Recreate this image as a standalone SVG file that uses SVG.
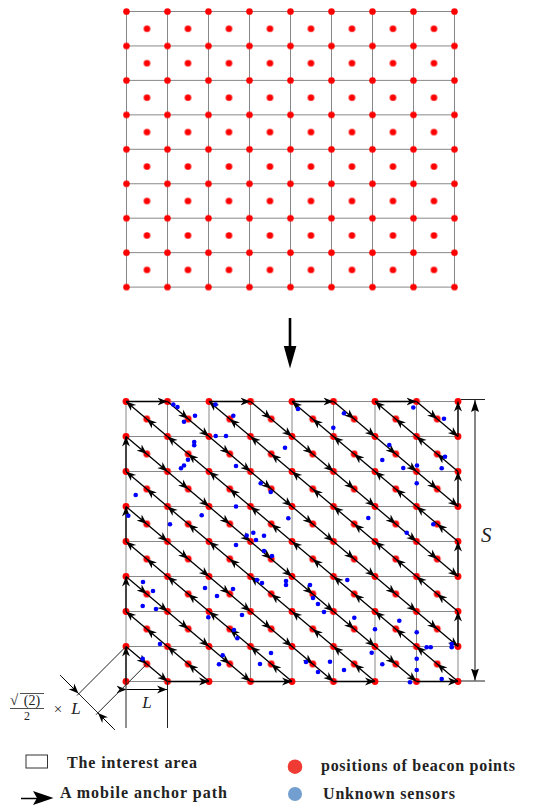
<svg xmlns="http://www.w3.org/2000/svg" width="544" height="805" viewBox="0 0 544 805">
<style>
.grid{fill:none;stroke:#888;stroke-width:1}
.d{fill:none;stroke:#000;stroke-width:1.3;marker-mid:url(#ah);marker-end:url(#ah)}
.e{fill:none;stroke:#000;stroke-width:1.3;marker-end:url(#ah)}
.s{fill:#0000ff}
.dim{fill:none;stroke:#222;stroke-width:1}
.lg{font-family:"Liberation Serif","DejaVu Serif",serif;font-weight:bold;font-size:16px;fill:#222}
.m{font-family:"Liberation Serif","DejaVu Serif",serif;fill:#222}
</style>
<defs>
<marker id="ah" viewBox="-10 -5 11 10" markerWidth="11" markerHeight="10" refX="0" refY="0" orient="auto" markerUnits="userSpaceOnUse"><path d="M0,0 L-10,-4 L-7,0 L-10,4 Z" fill="#000"/></marker>
<marker id="da" viewBox="-12 -5 13 10" markerWidth="13" markerHeight="10" refX="0" refY="0" orient="auto-start-reverse" markerUnits="userSpaceOnUse"><path d="M0,0 L-12,-4 L-10,0 L-12,4 Z" fill="#000"/></marker>
<pattern id="tv" patternUnits="userSpaceOnUse" x="106" y="-5.725" width="41" height="34.45"><circle cx="20.5" cy="17.225" r="3.3" fill="#ff0000"/></pattern>
<pattern id="tc" patternUnits="userSpaceOnUse" x="126.5" y="11.5" width="41" height="34.45"><circle cx="20.5" cy="17.225" r="3.3" fill="#ff0000"/></pattern>
<pattern id="bv" patternUnits="userSpaceOnUse" x="105.25" y="384" width="41.5" height="35"><circle cx="20.75" cy="17.5" r="3.4" fill="#ff0000"/></pattern>
<pattern id="bc" patternUnits="userSpaceOnUse" x="126" y="401.5" width="41.5" height="35"><circle cx="20.75" cy="17.5" r="3.4" fill="#ff0000"/></pattern>
</defs>
<rect width="544" height="805" fill="#fff"/>

<g id="top-grid">
<path class="grid" d="M126.5 11.5V287.1M167.5 11.5V287.1M208.5 11.5V287.1M249.5 11.5V287.1M290.5 11.5V287.1M331.5 11.5V287.1M372.5 11.5V287.1M413.5 11.5V287.1M454.5 11.5V287.1M126.5 11.5H454.5M126.5 45.95H454.5M126.5 80.4H454.5M126.5 114.85H454.5M126.5 149.3H454.5M126.5 183.75H454.5M126.5 218.2H454.5M126.5 252.65H454.5M126.5 287.1H454.5"/>
<rect x="106" y="-5.725" width="369" height="310.05" fill="url(#tv)"/>
<rect x="126.5" y="11.5" width="328" height="275.6" fill="url(#tc)"/>
</g>

<g id="transform-arrow">
<line x1="290" y1="318" x2="290" y2="348" stroke="#000" stroke-width="2.6"/>
<polygon points="283.8,346 296.4,346 290,368.5" fill="#000"/>
</g>

<g id="bottom-grid">
<path class="grid" d="M126 401.5V681.5M167.5 401.5V681.5M209 401.5V681.5M250.5 401.5V681.5M292 401.5V681.5M333.5 401.5V681.5M375 401.5V681.5M416.5 401.5V681.5M458 401.5V681.5M126 401.5H458M126 436.5H458M126 471.5H458M126 506.5H458M126 541.5H458M126 576.5H458M126 611.5H458M126 646.5H458M126 681.5H458"/>
<rect x="105.25" y="384" width="373.5" height="315" fill="url(#bv)"/>
<rect x="126" y="401.5" width="332" height="280" fill="url(#bc)"/>
</g>

<g id="anchor-path">
<path class="d" d="M126 646.5l20.75 17.5l20.75 17.5"/>
<path class="d" d="M209 681.5l-20.75-17.5l-20.75-17.5l-20.75-17.5l-20.75-17.5"/>
<path class="d" d="M126 576.5l20.75 17.5l20.75 17.5l20.75 17.5l20.75 17.5l20.75 17.5l20.75 17.5"/>
<path class="d" d="M292 681.5l-20.75-17.5l-20.75-17.5l-20.75-17.5l-20.75-17.5l-20.75-17.5l-20.75-17.5l-20.75-17.5l-20.75-17.5"/>
<path class="d" d="M126 506.5l20.75 17.5l20.75 17.5l20.75 17.5l20.75 17.5l20.75 17.5l20.75 17.5l20.75 17.5l20.75 17.5l20.75 17.5l20.75 17.5"/>
<path class="d" d="M375 681.5l-20.75-17.5l-20.75-17.5l-20.75-17.5l-20.75-17.5l-20.75-17.5l-20.75-17.5l-20.75-17.5l-20.75-17.5l-20.75-17.5l-20.75-17.5l-20.75-17.5l-20.75-17.5"/>
<path class="d" d="M126 436.5l20.75 17.5l20.75 17.5l20.75 17.5l20.75 17.5l20.75 17.5l20.75 17.5l20.75 17.5l20.75 17.5l20.75 17.5l20.75 17.5l20.75 17.5l20.75 17.5l20.75 17.5l20.75 17.5"/>
<path class="d" d="M458 681.5l-20.75-17.5l-20.75-17.5l-20.75-17.5l-20.75-17.5l-20.75-17.5l-20.75-17.5l-20.75-17.5l-20.75-17.5l-20.75-17.5l-20.75-17.5l-20.75-17.5l-20.75-17.5l-20.75-17.5l-20.75-17.5l-20.75-17.5l-20.75-17.5"/>
<path class="d" d="M167.5 401.5l20.75 17.5l20.75 17.5l20.75 17.5l20.75 17.5l20.75 17.5l20.75 17.5l20.75 17.5l20.75 17.5l20.75 17.5l20.75 17.5l20.75 17.5l20.75 17.5l20.75 17.5l20.75 17.5"/>
<path class="d" d="M458 611.5l-20.75-17.5l-20.75-17.5l-20.75-17.5l-20.75-17.5l-20.75-17.5l-20.75-17.5l-20.75-17.5l-20.75-17.5l-20.75-17.5l-20.75-17.5l-20.75-17.5l-20.75-17.5"/>
<path class="d" d="M250.5 401.5l20.75 17.5l20.75 17.5l20.75 17.5l20.75 17.5l20.75 17.5l20.75 17.5l20.75 17.5l20.75 17.5l20.75 17.5l20.75 17.5"/>
<path class="d" d="M458 541.5l-20.75-17.5l-20.75-17.5l-20.75-17.5l-20.75-17.5l-20.75-17.5l-20.75-17.5l-20.75-17.5l-20.75-17.5"/>
<path class="d" d="M333.5 401.5l20.75 17.5l20.75 17.5l20.75 17.5l20.75 17.5l20.75 17.5l20.75 17.5"/>
<path class="d" d="M458 471.5l-20.75-17.5l-20.75-17.5l-20.75-17.5l-20.75-17.5"/>
<path class="d" d="M416.5 401.5l20.75 17.5l20.75 17.5"/>
<path class="e" d="M126 681.5V646.5"/>
<path class="e" d="M126 611.5V576.5"/>
<path class="e" d="M126 541.5V506.5"/>
<path class="e" d="M126 471.5V436.5"/>
<path class="e" d="M167.5 681.5H209"/>
<path class="e" d="M250.5 681.5H292"/>
<path class="e" d="M333.5 681.5H375"/>
<path class="e" d="M416.5 681.5H458"/>
<path class="e" d="M126 401.5H167.5"/>
<path class="e" d="M209 401.5H250.5"/>
<path class="e" d="M292 401.5H333.5"/>
<path class="e" d="M375 401.5H416.5"/>
<path class="e" d="M458 646.5V611.5"/>
<path class="e" d="M458 576.5V541.5"/>
<path class="e" d="M458 506.5V471.5"/>
<path class="e" d="M458 436.5V401.5"/>
</g>

<g id="sensors">
<circle class="s" cx="173.3" cy="404.5" r="2.3"/><circle class="s" cx="177.5" cy="407" r="2.3"/><circle class="s" cx="195" cy="415.7" r="2.3"/><circle class="s" cx="184" cy="421.7" r="2.3"/><circle class="s" cx="215.5" cy="404.5" r="2.3"/><circle class="s" cx="233.3" cy="415.7" r="2.3"/><circle class="s" cx="215.7" cy="436" r="2.3"/><circle class="s" cx="226" cy="436" r="2.3"/><circle class="s" cx="194.2" cy="442" r="2.3"/><circle class="s" cx="194.2" cy="445.3" r="2.3"/><circle class="s" cx="188" cy="459.7" r="2.3"/><circle class="s" cx="184" cy="465.5" r="2.3"/><circle class="s" cx="181" cy="468.3" r="2.3"/><circle class="s" cx="236" cy="466" r="2.3"/><circle class="s" cx="285" cy="447.7" r="2.3"/><circle class="s" cx="260.7" cy="483.2" r="2.3"/><circle class="s" cx="270.7" cy="492" r="2.3"/><circle class="s" cx="135.7" cy="495" r="2.3"/><circle class="s" cx="236" cy="506.5" r="2.3"/><circle class="s" cx="128.3" cy="515.7" r="2.3"/><circle class="s" cx="201.7" cy="515.3" r="2.3"/><circle class="s" cx="170" cy="524.3" r="2.3"/><circle class="s" cx="288.3" cy="518.2" r="2.3"/><circle class="s" cx="246.7" cy="535.5" r="2.3"/><circle class="s" cx="253.3" cy="532.7" r="2.3"/><circle class="s" cx="264" cy="535.8" r="2.3"/>
<circle class="s" cx="413.3" cy="407.5" r="2.3"/><circle class="s" cx="344" cy="413.3" r="2.3"/><circle class="s" cx="444" cy="418.7" r="2.3"/><circle class="s" cx="333.3" cy="427.7" r="2.3"/><circle class="s" cx="389.3" cy="445" r="2.3"/><circle class="s" cx="382.3" cy="460" r="2.3"/><circle class="s" cx="403.3" cy="468" r="2.3"/><circle class="s" cx="417" cy="465.5" r="2.3"/><circle class="s" cx="441.7" cy="468.2" r="2.3"/><circle class="s" cx="445" cy="456.7" r="2.3"/><circle class="s" cx="416.7" cy="483.3" r="2.3"/><circle class="s" cx="368.3" cy="518" r="2.3"/><circle class="s" cx="433.3" cy="524.3" r="2.3"/><circle class="s" cx="406.7" cy="532.7" r="2.3"/>
<circle class="s" cx="347.3" cy="580" r="2.3"/><circle class="s" cx="354.3" cy="617.7" r="2.3"/><circle class="s" cx="399.3" cy="620.7" r="2.3"/><circle class="s" cx="375" cy="629.3" r="2.3"/><circle class="s" cx="416.7" cy="632.3" r="2.3"/><circle class="s" cx="426.7" cy="647.3" r="2.3"/><circle class="s" cx="430.7" cy="647.3" r="2.3"/><circle class="s" cx="451.7" cy="644" r="2.3"/><circle class="s" cx="451.7" cy="647.3" r="2.3"/><circle class="s" cx="371.7" cy="652.7" r="2.3"/><circle class="s" cx="416.7" cy="658.7" r="2.3"/><circle class="s" cx="330" cy="661.7" r="2.3"/><circle class="s" cx="382.3" cy="664.3" r="2.3"/><circle class="s" cx="344" cy="670" r="2.3"/><circle class="s" cx="416.7" cy="670" r="2.3"/><circle class="s" cx="441.7" cy="679" r="2.3"/><circle class="s" cx="410" cy="682.3" r="2.3"/>
<circle class="s" cx="160" cy="644" r="2.3"/><circle class="s" cx="142.7" cy="658.8" r="2.3"/><circle class="s" cx="222.7" cy="655.3" r="2.3"/><circle class="s" cx="219" cy="664.3" r="2.3"/><circle class="s" cx="237.3" cy="638.3" r="2.3"/><circle class="s" cx="142.7" cy="606" r="2.3"/><circle class="s" cx="156" cy="609" r="2.3"/><circle class="s" cx="208.3" cy="617.3" r="2.3"/>
<circle class="s" cx="236" cy="545" r="2.3"/><circle class="s" cx="256" cy="540" r="2.3"/><circle class="s" cx="264" cy="551" r="2.3"/><circle class="s" cx="272" cy="556" r="2.3"/><circle class="s" cx="143" cy="582" r="2.3"/><circle class="s" cx="153" cy="591" r="2.3"/><circle class="s" cx="205" cy="588" r="2.3"/><circle class="s" cx="217" cy="596" r="2.3"/><circle class="s" cx="233" cy="589" r="2.3"/><circle class="s" cx="257" cy="580" r="2.3"/><circle class="s" cx="262" cy="583" r="2.3"/><circle class="s" cx="286" cy="581" r="2.3"/><circle class="s" cx="286" cy="585" r="2.3"/><circle class="s" cx="310" cy="585" r="2.3"/><circle class="s" cx="313" cy="598" r="2.3"/><circle class="s" cx="318" cy="604" r="2.3"/><circle class="s" cx="324" cy="612" r="2.3"/><circle class="s" cx="242" cy="615" r="2.3"/><circle class="s" cx="234" cy="630" r="2.3"/><circle class="s" cx="298" cy="409" r="2.3"/><circle class="s" cx="271" cy="653" r="2.3"/><circle class="s" cx="260" cy="664" r="2.3"/><circle class="s" cx="306" cy="662" r="2.3"/><circle class="s" cx="318" cy="672" r="2.3"/>
</g>

<g id="dim-S">
<path class="dim" d="M461 399.5H485M461 681H485"/>
<line x1="475" y1="400" x2="475" y2="680.5" stroke="#333" stroke-width="1.2" marker-start="url(#da)" marker-end="url(#da)"/>
<text class="m" x="481" y="542" font-size="21" font-style="italic">S</text>
</g>

<g id="dim-L">
<path class="dim" d="M126 681.5V728M167.5 681.5V728"/>
<line x1="126.5" y1="689.5" x2="167" y2="689.5" stroke="#000" stroke-width="1" marker-start="url(#ah)" marker-end="url(#ah)"/>
<text class="m" x="147" y="708" font-size="17" font-style="italic" text-anchor="middle">L</text>
</g>

<g id="dim-diag">
<path class="dim" d="M126 646.5L77 695.5M146.75 664L96 714.75"/>
<path class="dim" d="M60 675L115 730"/>
<line x1="62" y1="677" x2="78.5" y2="693.5" stroke="#000" stroke-width="1" marker-end="url(#ah)"/>
<line x1="113" y1="728" x2="98" y2="713" stroke="#000" stroke-width="1" marker-end="url(#ah)"/>
<text class="m" x="10" y="705" font-size="15">√</text>
<line x1="20" y1="693.5" x2="44" y2="693.5" stroke="#222" stroke-width="0.8"/>
<text class="m" x="32" y="705" font-size="14" text-anchor="middle">(2)</text>
<line x1="10" y1="708.5" x2="44" y2="708.5" stroke="#222" stroke-width="0.8"/>
<text class="m" x="27" y="720" font-size="12" text-anchor="middle">2</text>
<text class="m" x="58" y="714" font-size="15" text-anchor="middle">×</text>
<text class="m" x="76" y="714" font-size="17" font-style="italic" text-anchor="middle">L</text>
</g>

<g id="legend">
<rect x="26" y="755" width="21.5" height="13" fill="none" stroke="#333" stroke-width="1"/>
<text class="lg" x="67" y="767.5" textLength="130">The interest area</text>
<line x1="21" y1="798.5" x2="40" y2="798.5" stroke="#000" stroke-width="1.5"/>
<polygon points="33,791 53.5,798 33,805 37,798" fill="#000"/>
<text class="lg" x="60" y="797.5" textLength="167">A mobile anchor path</text>
<circle cx="295" cy="766.7" r="7.3" fill="#ef3b33"/>
<text class="lg" x="321" y="771" textLength="194">positions of beacon points</text>
<circle cx="295" cy="794" r="7" fill="#729fcf"/>
<text class="lg" x="323" y="798.5" textLength="132">Unknown sensors</text>
</g>
</svg>
